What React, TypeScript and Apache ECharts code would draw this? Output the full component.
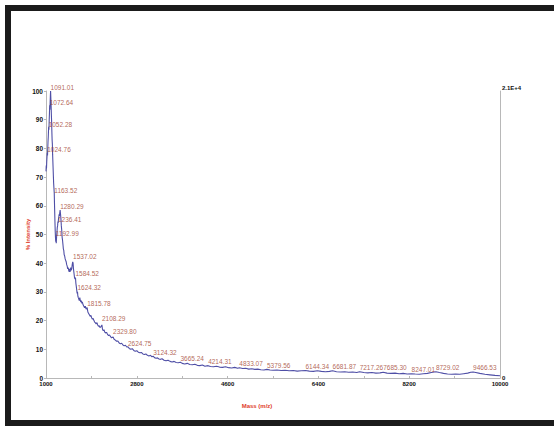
import React, { useEffect, useRef } from "react";
import * as echarts from "echarts";

const spectrumMass = [
  1000, 1005, 1010, 1015, 1020, 1024.76, 1030, 1035, 1040, 1045, 1052.28, 1058, 1063, 1068, 1072.64, 1077, 1082, 1087, 1091.01,
  1096, 1101, 1106, 1111, 1116, 1121, 1126, 1131, 1136, 1141, 1146, 1151, 1156, 1163.52, 1168, 1173, 1178, 1183, 1188, 1192.99,
  1198, 1203, 1208, 1213, 1218, 1224, 1230, 1236.41, 1242, 1248, 1254, 1260, 1266, 1272, 1280.29, 1288, 1296, 1304, 1312, 1320,
  1328, 1336, 1344, 1352, 1360, 1370, 1380, 1390, 1400, 1410, 1420, 1430, 1440, 1450, 1460, 1470, 1480, 1490, 1500, 1510, 1520,
  1530, 1537.02, 1545, 1555, 1565, 1575, 1584.52, 1592, 1600, 1610, 1617, 1624.32, 1632, 1640, 1650, 1660, 1670, 1680, 1690, 1700,
  1710, 1720, 1735, 1750, 1765, 1780, 1795, 1815.78, 1830, 1845, 1860, 1875, 1890, 1905, 1920, 1935, 1950, 1965, 1980, 1995, 2010,
  2025, 2040, 2055, 2070, 2085, 2108.29, 2120, 2135, 2150, 2165, 2180, 2200, 2220, 2240, 2260, 2280, 2300, 2329.8, 2350, 2375, 2400,
  2425, 2450, 2475, 2500, 2525, 2550, 2575, 2600, 2624.75, 2650, 2680, 2710, 2740, 2770, 2800, 2830, 2860, 2890, 2920, 2950, 2980,
  3010, 3040, 3070, 3100, 3124.32, 3150, 3180, 3210, 3240, 3270, 3300, 3340, 3380, 3420, 3460, 3500, 3540, 3580, 3620, 3665.24, 3700,
  3750, 3800, 3850, 3900, 3950, 4000, 4050, 4100, 4150, 4214.31, 4260, 4320, 4380, 4440, 4500, 4560, 4620, 4680, 4740, 4800, 4833.07,
  4900, 4960, 5020, 5080, 5140, 5200, 5260, 5320, 5379.56, 5440, 5500, 5580, 5660, 5740, 5820, 5900, 5980, 6060, 6144.34, 6220, 6300,
  6380, 6460, 6540, 6620, 6681.87, 6760, 6840, 6920, 7000, 7080, 7160, 7217.26, 7300, 7380, 7460, 7540, 7620, 7685.3, 7760, 7840, 7920,
  8000, 8080, 8160, 8247.01, 8320, 8400, 8480, 8560, 8640, 8729.02, 8800, 8880, 8960, 9040, 9120, 9200, 9280, 9360, 9420, 9466.53, 9520,
  9600, 9700, 9800, 9900, 10000,
];

const spectrumIntensity = [
  72, 74, 73, 75.5, 77, 78.5, 77.5, 80, 82.5, 84, 87.5, 86.5, 89.5, 92, 95, 93.5, 96, 98.5, 100,
  97.5, 95, 92, 89.5, 86, 83, 81.5, 78, 75.5, 73, 70.5, 68, 66.5, 64.5, 61, 57.5, 54, 51, 49, 47.5,
  48.5, 47, 48.5, 50, 51, 52.5, 53, 54.5, 54, 55.5, 56, 57, 56.5, 57.5, 58.5, 57, 55.5, 53, 51.5, 49,
  48, 46.5, 45, 44.5, 43, 42.5, 41.5, 41, 40.5, 39.5, 39, 38, 38.5, 37.5, 37, 38, 37, 38.5, 37.5, 38, 39.5,
  40.5, 40, 38, 36.5, 35, 34.5, 35, 33, 32, 30.5, 29.5, 30, 28.5, 28, 27.5, 27, 28, 27, 26.5, 27,
  26, 26.5, 25.5, 25, 24.5, 25, 24, 24.5, 23, 22.5, 22, 21.5, 21.8, 21, 20.5, 20.8, 20, 19.5, 19.2, 18.8, 19.3,
  18.5, 18, 18.2, 17.6, 17.8, 18.5, 17, 16.5, 16.8, 16, 15.7, 15.9, 15.2, 14.8, 15, 14.4, 14, 14.3, 13.5, 13.2, 12.8,
  12.9, 12.2, 11.9, 12.1, 11.5, 11.2, 11.4, 10.8, 10.9, 10.3, 10, 10.2, 9.6, 9.3, 9.5, 9, 8.8, 8.9, 8.4, 8.2, 8.4,
  7.9, 7.7, 7.9, 7.4, 7.6, 7.1, 6.9, 7.0, 6.6, 6.5, 6.7, 6.2, 6.0, 6.2, 5.8, 5.6, 5.8, 5.4, 5.3, 5.5, 5.1,
  4.9, 5.1, 4.7, 4.6, 4.8, 4.4, 4.3, 4.5, 4.1, 4.3, 4.0, 3.9, 4.1, 3.8, 3.7, 3.9, 3.6, 3.5, 3.7, 3.4, 3.6,
  3.3, 3.4, 3.1, 3.2, 3.0, 3.1, 2.9, 2.8, 3.0, 2.8, 2.7, 2.8, 2.6, 2.7, 2.5, 2.6, 2.4, 2.5, 2.6, 2.4, 2.3,
  2.5, 2.3, 2.2, 2.3, 2.5, 2.2, 2.1, 2.2, 2.0, 2.1, 1.9, 2.2, 1.9, 1.8, 1.9, 1.7, 1.8, 2.0, 1.7, 1.6, 1.7,
  1.5, 1.6, 1.4, 1.5, 1.4, 1.3, 1.5, 1.6, 1.9, 2.2, 1.9, 1.6, 1.4, 1.3, 1.4, 1.3, 1.5, 1.7, 2.0, 2.1, 1.9,
  1.6, 1.3, 1.1, 0.9, 0.8,
];

const peakMass = [
  1091.01, 1072.64, 1052.28, 1024.76, 1163.52, 1280.29, 1236.41, 1192.99, 1537.02, 1584.52, 1624.32, 1815.78, 2108.29, 2329.8,
  2624.75, 3124.32, 3665.24, 4214.31, 4833.07, 5379.56, 6144.34, 6681.87, 7217.26, 7685.3, 8247.01, 8729.02, 9466.53,
];
const peakIntensity = [
  100, 94.6, 87, 78.3, 64, 58.4, 54, 49.3, 41, 35.3, 30.4, 24.8, 19.6, 15, 10.7, 7.7, 5.6, 4.5, 3.8, 3.1, 2.8, 2.8, 2.4, 2.4,
  1.9, 2.5, 2.5,
];

const xLabelValues = [1000, 2800, 4600, 6400, 8200, 10000];
const xTickValues = [1000, 1900, 2800, 3700, 4600, 5500, 6400, 7300, 8200, 9100, 10000];
const rightAxisValues = [0, 21000];

const FONT = "Arial, 'Liberation Sans', sans-serif";

export default function App() {
  const ref = useRef<HTMLDivElement>(null);
  useEffect(() => {
    if (!ref.current) return;
    document.body.style.margin = "0";
    document.body.style.overflow = "hidden";
    const chart = echarts.init(ref.current, null, { renderer: "svg" });
    const axisLineStyle = { color: "#b8b8b8", width: 1 };
    const frameStyle = { stroke: "#1b1b1b", lineWidth: 6 };
    chart.setOption({
      animation: false,
      backgroundColor: "#ffffff",
      textStyle: { fontFamily: FONT },
      graphic: [
        { type: "line", silent: true, z: -10, shape: { x1: 5, y1: 8, x2: 554, y2: 8 }, style: frameStyle },
        { type: "line", silent: true, z: -10, shape: { x1: 8, y1: 5, x2: 8, y2: 426 }, style: frameStyle },
        { type: "line", silent: true, z: -10, shape: { x1: 5, y1: 423, x2: 554, y2: 423 }, style: frameStyle },
      ],
      grid: { left: 46, right: 54, top: 91, bottom: 50, containLabel: false },
      xAxis: {
        type: "value",
        min: 1000,
        max: 10000,
        name: "Mass (m/z)",
        nameLocation: "middle",
        nameGap: 25,
        nameMoveOverlap: false,
        nameTextStyle: { color: "#e0402c", fontWeight: "bold", fontSize: 6, fontFamily: FONT, padding: [0, 32, 0, 0] },
        axisLine: { show: true, lineStyle: axisLineStyle },
        axisTick: { show: true, inside: true, length: 2, customValues: xTickValues, lineStyle: axisLineStyle },
        axisLabel: {
          customValues: xLabelValues,
          formatter: (v: number) => String(v),
          color: "#111",
          fontWeight: "bold",
          fontSize: 6,
          fontFamily: FONT,
          margin: 3,
        },
        splitLine: { show: false },
      },
      yAxis: [
        {
          type: "value",
          min: 0,
          max: 100,
          interval: 10,
          name: "% Intensity",
          nameLocation: "middle",
          nameGap: 15,
          nameMoveOverlap: false,
          nameTextStyle: { color: "#e0402c", fontWeight: "bold", fontSize: 6, fontFamily: FONT },
          axisLine: { show: true, lineStyle: axisLineStyle },
          axisTick: { show: true, length: 2, lineStyle: axisLineStyle },
          axisLabel: { color: "#111", fontWeight: "bold", fontSize: 6.5, fontFamily: FONT, margin: 3 },
          splitLine: { show: false },
        },
        {
          type: "value",
          position: "right",
          min: 0,
          max: 21000,
          axisLine: { show: true, lineStyle: axisLineStyle },
          axisTick: { show: false },
          axisLabel: {
            customValues: rightAxisValues,
            formatter: (v: number) => (v === 0 ? "0" : v.toExponential(1).toUpperCase()),
            color: "#111",
            fontWeight: "bold",
            fontSize: 6,
            fontFamily: FONT,
            margin: 2,
            verticalAlignMaxLabel: "bottom",
            verticalAlignMinLabel: "middle",
          },
          splitLine: { show: false },
        },
      ],
      series: [
        {
          type: "line",
          data: spectrumMass.map((m, i) => [m, spectrumIntensity[i]]),
          showSymbol: false,
          symbol: "none",
          silent: true,
          lineStyle: { color: "#4f4fa6", width: 1.1 },
          z: 3,
        },
        {
          type: "scatter",
          data: peakMass.map((m, i) => [m, peakIntensity[i]]),
          symbolSize: 0,
          silent: true,
          z: 4,
          label: {
            show: true,
            position: "top",
            align: "left",
            distance: 0,
            color: "#a03d2b",
            fontSize: 6.5,
            fontFamily: FONT,
            formatter: (p: any) => p.value[0].toFixed(2),
          },
        },
      ],
    });
    return () => chart.dispose();
  }, []);
  return <div ref={ref} style={{ position: "absolute", left: 0, top: 0, width: 554, height: 428, overflow: "hidden" }} />;
}
